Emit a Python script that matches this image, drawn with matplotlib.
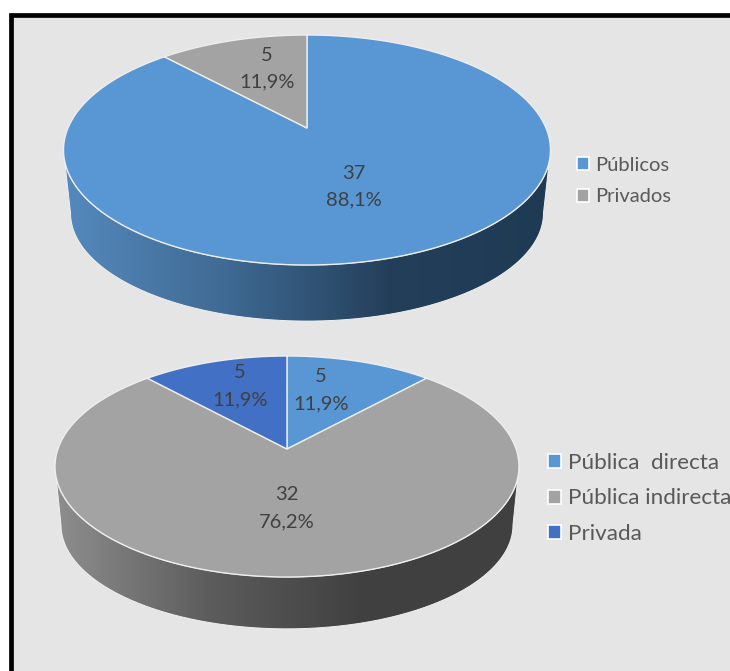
import numpy as np
import matplotlib
matplotlib.use('Agg')
from matplotlib import pyplot as plt
from matplotlib.colors import LinearSegmentedColormap
from matplotlib.patches import Patch, PathPatch, Rectangle
from matplotlib.path import Path

# Data
tipo_labels = ['Públicos', 'Privados']
tipo_values = [37, 5]
tipo_pcts = ['88,1%', '11,9%']

gestion_labels = ['Pública  directa', 'Pública indirecta', 'Privada']
gestion_values = [5, 32, 5]
gestion_pcts = ['11,9%', '76,2%', '11,9%']

BLUE = '#5897d4'
GRAY = '#a3a3a3'
DARK_BLUE = '#4270c4'

plt.rcParams['font.family'] = ['Lato', 'DejaVu Sans']

fig = plt.figure(figsize=(7.3, 6.71), dpi=100, facecolor='white')
ax = fig.add_axes([0, 0, 1, 1])
ax.set_xlim(0, 730)
ax.set_ylim(671, 0)
ax.axis('off')

# Grey panel with thick black frame, cut by the right and bottom of the picture
ax.add_patch(Rectangle((10.5, 14.5), 760, 700, facecolor='#e5e5e5', edgecolor='black', linewidth=3.4, zorder=0))


def project(angle, cx, rx, top, bottom, apex):
    # circle seen in perspective, angle is clockwise from 12 o'clock
    k = (top + bottom - 2 * apex) / (bottom - top)
    a = top * (1 + k) - apex
    c = rx * np.sqrt(1 - k ** 2)
    u, v = np.sin(angle), np.cos(angle)
    w = 1 + k * v
    return cx + c * u / w, (a * v + apex) / w


def draw_pie(values, colors, side_colors, cx, rx, top, bottom, apex, depth, inset):
    # side wall with a left to right gradient
    cy = (top + bottom) / 2
    ry = (bottom - top) / 2
    t = np.linspace(0, np.pi, 200)
    upper = np.column_stack([cx - rx * np.cos(t), cy + ry * np.sin(t)])
    lower = np.column_stack([cx + (rx - inset) * np.cos(t), cy + depth + ry * np.sin(np.pi - t) * 0.94])
    pts = np.vstack([upper, lower, upper[:1]])
    wall = PathPatch(Path(pts), facecolor='none', edgecolor='#f0f0f0', linewidth=0.7, zorder=2, transform=ax.transData)
    ax.add_patch(wall)
    cmap = LinearSegmentedColormap.from_list('wall', side_colors)
    grad = np.linspace(0, 1, 256).reshape(1, -1)
    img = ax.imshow(grad, cmap=cmap, extent=(cx - rx, cx + rx, bottom + depth + 5, cy), aspect='auto', zorder=1)
    img.set_clip_path(wall)
    ax.set_xlim(0, 730)
    ax.set_ylim(671, 0)

    # top face
    start = 0.0
    total = sum(values)
    for val, col in zip(values, colors):
        end = start + 2 * np.pi * val / total
        ang = np.linspace(start, end, 200)
        x, y = project(ang, cx, rx, top, bottom, apex)
        ax.fill(np.r_[cx, x], np.r_[apex, y], facecolor=col, edgecolor='#eeeeee', linewidth=1.0, zorder=3)
        start = end


draw_pie(tipo_values, [BLUE, GRAY], ['#5589bd', '#3f6a93', '#243f5a', '#1f3a53'],
         307, 243.5, 35, 265, 128, 63, 7)
draw_pie(gestion_values, [BLUE, GRAY, DARK_BLUE], ['#8e8e8e', '#5c5c5c', '#404040', '#404040'],
         287, 232, 356, 577, 449, 58.5, 6)

# Data labels
LABEL = '#404040'
tipo_pos = [(354, 187), (267, 68.5)]
for val, pct, (x, y) in zip(tipo_values, tipo_pcts, tipo_pos):
    ax.text(x, y, f'{val}\n{pct}', ha='center', va='center', fontsize=14.5, color=LABEL, linespacing=1.65, zorder=4)

gestion_pos = [(321, 390), (287, 508), (240, 386.5)]
for val, pct, (x, y) in zip(gestion_values, gestion_pcts, gestion_pos):
    ax.text(x, y, f'{val}\n{pct}', ha='center', va='center', fontsize=14.5, color=LABEL, linespacing=1.75, zorder=4)


# Legends
def add_legend(labels, colors, x, y, size, spacing, box, pad):
    handles = [Patch(facecolor=c, edgecolor='white', linewidth=1.2) for c in colors]
    leg = ax.legend(handles=handles, labels=labels, loc='center left', bbox_to_anchor=(x, y),
                    bbox_transform=ax.transData, frameon=False, fontsize=size, labelcolor='#595959',
                    handlelength=box, handleheight=box, handletextpad=pad, labelspacing=spacing,
                    borderpad=0, borderaxespad=0)
    leg.set_zorder(5)
    return leg


ax.add_artist(add_legend(tipo_labels, [BLUE, GRAY], 577, 181, 14.5, 0.72, 0.62, 0.3))
add_legend(gestion_labels, [BLUE, GRAY, DARK_BLUE], 548, 498.5, 16.2, 0.7, 0.58, 0.3)

fig.savefig('out.png', dpi=100)
